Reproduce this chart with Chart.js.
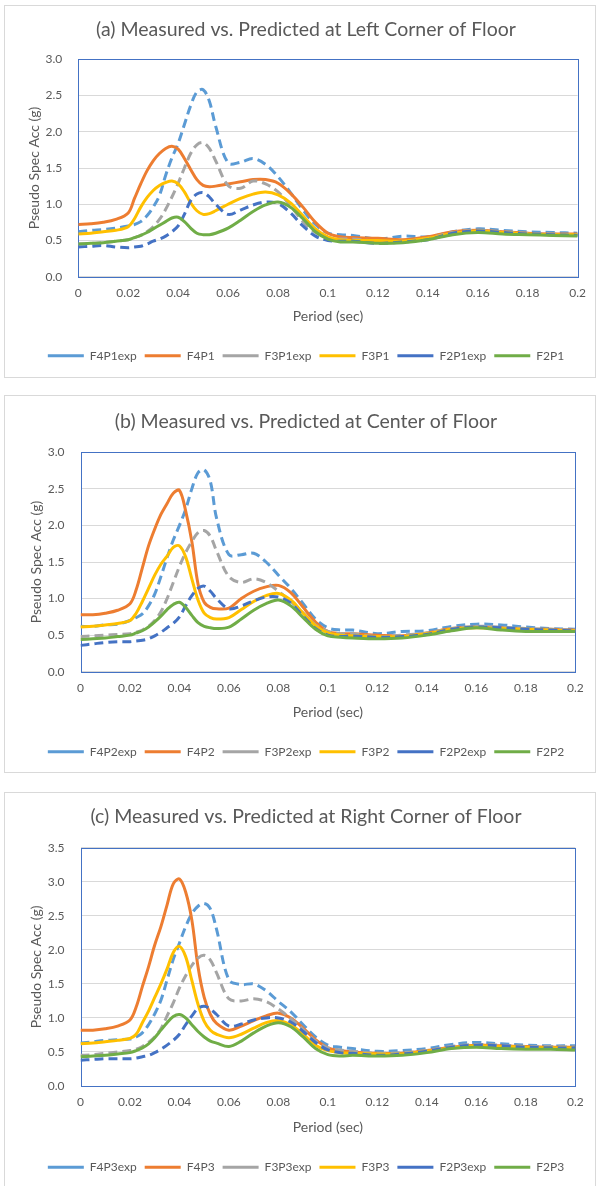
<!DOCTYPE html>
<html>
<head>
<meta charset="utf-8">
<script src="https://cdn.jsdelivr.net/npm/chart.js@4.4.1/dist/chart.umd.min.js"></script>
<style>
  body { margin: 0; background: #fff; width: 597px; height: 1186px; position: relative; overflow: hidden; }
  .frame { position: absolute; left: 4px; width: 592px; border: 1px solid #d9d9d9; box-sizing: border-box; }
  canvas { position: absolute; left: 0; display: block; }
</style>
</head>
<body>
<div class="frame" style="top:5px;height:373px"></div>
<div class="frame" style="top:395px;height:378px"></div>
<div class="frame" style="top:792px;height:400px"></div>
<canvas id="chart-a" width="597" height="373" style="top:5px"></canvas>
<canvas id="chart-b" width="597" height="378" style="top:395px"></canvas>
<canvas id="chart-c" width="597" height="394" style="top:792px"></canvas>
<script>
// period axis (sec), shared by every series
const periods = [0, 0.005, 0.01, 0.015, 0.02, 0.0225, 0.025, 0.0275, 0.03, 0.0325, 0.035, 0.0375, 0.04, 0.0425, 0.045, 0.0475,
  0.05, 0.0525, 0.055, 0.06, 0.065, 0.07, 0.075, 0.08, 0.085, 0.09, 0.095, 0.1, 0.105, 0.11, 0.12, 0.13, 0.14, 0.15, 0.16,
  0.17, 0.18, 0.19, 0.2];

const xTickLabels = ['0', '0.02', '0.04', '0.06', '0.08', '0.1', '0.12', '0.14', '0.16', '0.18', '0.2'];
const yTickLabels3 = ['0.0', '0.5', '1.0', '1.5', '2.0', '2.5', '3.0'];
const yTickLabels35 = ['0.0', '0.5', '1.0', '1.5', '2.0', '2.5', '3.0', '3.5'];

// (a) left corner
const leftNames = ['F4P1exp', 'F4P1', 'F3P1exp', 'F3P1', 'F2P1exp', 'F2P1'];
const f4p1exp = [0.62, 0.64, 0.65, 0.67, 0.70, 0.72, 0.76, 0.84, 0.96, 1.12, 1.40, 1.64, 1.84, 2.10, 2.36, 2.55, 2.58, 2.42, 2.08, 1.57, 1.58, 1.63, 1.55, 1.38, 1.16, 0.92, 0.72, 0.60, 0.58, 0.57, 0.52, 0.56, 0.55, 0.62, 0.66, 0.64, 0.62, 0.61, 0.60];
const f4p1 = [0.72, 0.73, 0.75, 0.79, 0.88, 1.08, 1.28, 1.46, 1.60, 1.70, 1.77, 1.80, 1.76, 1.63, 1.48, 1.34, 1.26, 1.24, 1.25, 1.28, 1.31, 1.34, 1.34, 1.29, 1.15, 0.96, 0.75, 0.60, 0.55, 0.54, 0.53, 0.51, 0.55, 0.62, 0.64, 0.62, 0.60, 0.59, 0.59];
const f3p1exp = [0.45, 0.46, 0.47, 0.49, 0.51, 0.54, 0.57, 0.62, 0.69, 0.79, 0.93, 1.10, 1.29, 1.50, 1.70, 1.82, 1.85, 1.77, 1.60, 1.26, 1.22, 1.32, 1.28, 1.17, 0.98, 0.76, 0.61, 0.54, 0.52, 0.52, 0.49, 0.49, 0.53, 0.61, 0.64, 0.62, 0.60, 0.59, 0.58];
const f3p1 = [0.59, 0.60, 0.62, 0.64, 0.69, 0.80, 0.96, 1.09, 1.19, 1.26, 1.30, 1.32, 1.28, 1.17, 1.02, 0.91, 0.86, 0.87, 0.91, 1.00, 1.08, 1.14, 1.17, 1.13, 1.02, 0.84, 0.66, 0.55, 0.51, 0.50, 0.50, 0.49, 0.53, 0.60, 0.63, 0.61, 0.59, 0.58, 0.58];
const f2p1exp = [0.41, 0.42, 0.43, 0.41, 0.40, 0.41, 0.42, 0.45, 0.49, 0.52, 0.56, 0.62, 0.70, 0.86, 1.05, 1.14, 1.16, 1.10, 1.00, 0.86, 0.92, 0.99, 1.03, 1.01, 0.88, 0.70, 0.56, 0.50, 0.49, 0.49, 0.46, 0.48, 0.51, 0.60, 0.63, 0.61, 0.59, 0.58, 0.57];
const f2p1 = [0.45, 0.46, 0.47, 0.49, 0.51, 0.54, 0.57, 0.61, 0.66, 0.71, 0.76, 0.81, 0.82, 0.76, 0.67, 0.60, 0.58, 0.58, 0.60, 0.67, 0.78, 0.90, 0.99, 1.03, 0.96, 0.80, 0.62, 0.52, 0.48, 0.48, 0.46, 0.47, 0.51, 0.58, 0.61, 0.59, 0.58, 0.57, 0.56];

// (b) center
const centerNames = ['F4P2exp', 'F4P2', 'F3P2exp', 'F3P2', 'F2P2exp', 'F2P2'];
const f4p2exp = [0.62, 0.62, 0.64, 0.65, 0.70, 0.74, 0.79, 0.90, 1.06, 1.30, 1.56, 1.80, 2.00, 2.22, 2.50, 2.72, 2.76, 2.60, 2.10, 1.60, 1.60, 1.62, 1.50, 1.32, 1.14, 0.93, 0.72, 0.60, 0.57, 0.57, 0.52, 0.55, 0.56, 0.62, 0.65, 0.64, 0.61, 0.59, 0.58];
const f4p2 = [0.78, 0.78, 0.80, 0.84, 0.93, 1.12, 1.42, 1.72, 1.95, 2.15, 2.30, 2.44, 2.48, 2.20, 1.78, 1.20, 0.95, 0.88, 0.86, 0.87, 1.00, 1.10, 1.16, 1.18, 1.08, 0.88, 0.68, 0.55, 0.52, 0.52, 0.50, 0.49, 0.53, 0.59, 0.61, 0.60, 0.58, 0.58, 0.57];
const f3p2exp = [0.48, 0.49, 0.50, 0.51, 0.52, 0.54, 0.57, 0.62, 0.70, 0.82, 1.00, 1.22, 1.44, 1.63, 1.78, 1.90, 1.93, 1.85, 1.65, 1.30, 1.22, 1.27, 1.22, 1.10, 0.96, 0.80, 0.64, 0.55, 0.52, 0.52, 0.48, 0.50, 0.53, 0.59, 0.62, 0.61, 0.59, 0.58, 0.57];
const f3p2 = [0.61, 0.62, 0.64, 0.66, 0.70, 0.80, 0.96, 1.14, 1.32, 1.47, 1.58, 1.70, 1.72, 1.57, 1.27, 0.98, 0.80, 0.74, 0.72, 0.74, 0.85, 0.96, 1.04, 1.07, 0.98, 0.80, 0.63, 0.53, 0.50, 0.49, 0.48, 0.48, 0.52, 0.58, 0.60, 0.59, 0.58, 0.57, 0.56];
const f2p2exp = [0.36, 0.38, 0.40, 0.41, 0.41, 0.42, 0.43, 0.45, 0.49, 0.54, 0.60, 0.66, 0.75, 0.90, 1.04, 1.14, 1.17, 1.10, 1.00, 0.86, 0.90, 0.97, 1.02, 1.02, 0.94, 0.76, 0.59, 0.50, 0.48, 0.49, 0.47, 0.48, 0.51, 0.58, 0.61, 0.60, 0.58, 0.57, 0.56];
const f2p2 = [0.44, 0.45, 0.46, 0.48, 0.50, 0.53, 0.56, 0.61, 0.68, 0.76, 0.85, 0.92, 0.95, 0.88, 0.77, 0.67, 0.62, 0.60, 0.59, 0.61, 0.72, 0.84, 0.93, 0.98, 0.90, 0.74, 0.58, 0.49, 0.47, 0.46, 0.45, 0.46, 0.50, 0.56, 0.60, 0.57, 0.55, 0.55, 0.55];

// (c) right corner
const rightNames = ['F4P3exp', 'F4P3', 'F3P3exp', 'F3P3', 'F2P3exp', 'F2P3'];
const f4p3exp = [0.63, 0.65, 0.67, 0.68, 0.69, 0.72, 0.78, 0.90, 1.06, 1.26, 1.56, 1.86, 2.10, 2.34, 2.53, 2.64, 2.68, 2.60, 2.30, 1.56, 1.49, 1.50, 1.40, 1.24, 1.09, 0.90, 0.72, 0.60, 0.57, 0.55, 0.51, 0.52, 0.55, 0.61, 0.64, 0.62, 0.60, 0.59, 0.59];
const f4p3 = [0.82, 0.82, 0.84, 0.88, 0.97, 1.16, 1.46, 1.75, 2.07, 2.34, 2.66, 2.97, 3.04, 2.85, 2.44, 1.75, 1.30, 1.05, 0.92, 0.82, 0.88, 0.96, 1.03, 1.07, 1.00, 0.85, 0.68, 0.56, 0.52, 0.50, 0.48, 0.48, 0.52, 0.57, 0.60, 0.59, 0.58, 0.57, 0.57];
const f3p3exp = [0.45, 0.46, 0.48, 0.50, 0.52, 0.54, 0.58, 0.64, 0.72, 0.84, 1.03, 1.22, 1.44, 1.62, 1.77, 1.88, 1.92, 1.85, 1.66, 1.28, 1.25, 1.28, 1.24, 1.13, 0.99, 0.83, 0.66, 0.56, 0.53, 0.51, 0.48, 0.49, 0.52, 0.58, 0.61, 0.60, 0.58, 0.58, 0.57];
const f3p3 = [0.62, 0.63, 0.65, 0.67, 0.70, 0.76, 0.93, 1.10, 1.30, 1.50, 1.72, 1.96, 2.05, 1.90, 1.55, 1.20, 0.95, 0.82, 0.76, 0.71, 0.76, 0.85, 0.93, 0.96, 0.90, 0.76, 0.60, 0.52, 0.49, 0.48, 0.47, 0.47, 0.51, 0.56, 0.59, 0.58, 0.57, 0.56, 0.56];
const f2p3exp = [0.38, 0.39, 0.40, 0.40, 0.40, 0.41, 0.43, 0.45, 0.49, 0.54, 0.60, 0.67, 0.76, 0.90, 1.03, 1.14, 1.17, 1.13, 1.05, 0.88, 0.91, 0.97, 1.00, 1.00, 0.94, 0.80, 0.64, 0.53, 0.49, 0.48, 0.45, 0.47, 0.51, 0.57, 0.60, 0.59, 0.57, 0.56, 0.56];
const f2p3 = [0.43, 0.44, 0.45, 0.47, 0.49, 0.52, 0.56, 0.62, 0.71, 0.82, 0.93, 1.02, 1.05, 1.00, 0.90, 0.80, 0.72, 0.66, 0.63, 0.58, 0.66, 0.78, 0.88, 0.93, 0.87, 0.72, 0.55, 0.46, 0.44, 0.45, 0.44, 0.45, 0.49, 0.55, 0.57, 0.55, 0.54, 0.54, 0.53];

// series look, same order in every panel
const lineStyles = [
  { color: '#5B9BD5', dash: [9, 5] },
  { color: '#ED7D31', dash: [] },
  { color: '#A5A5A5', dash: [9, 5] },
  { color: '#FFC000', dash: [] },
  { color: '#4472C4', dash: [9, 5] },
  { color: '#70AD47', dash: [] }
];

// page positions of each panel (px)
const panels = [
  { id: 'chart-a', title: '(a) Measured vs. Predicted at Left Corner of Floor', names: leftNames,
    series: [f4p1exp, f4p1, f3p1exp, f3p1, f2p1exp, f2p1], yMax: 3, yTicks: yTickLabels3,
    top: 5, height: 373, plotLeft: 78.3, plotRight: 577.6, plotTop: 59.3, plotBottom: 276.7,
    titleY: 29.3, xTitleY: 316.7, legendY: 355.7, yTitleX: 34 },
  { id: 'chart-b', title: '(b) Measured vs. Predicted at Center of Floor', names: centerNames,
    series: [f4p2exp, f4p2, f3p2exp, f3p2, f2p2exp, f2p2], yMax: 3, yTicks: yTickLabels3,
    top: 395, height: 378, plotLeft: 80.5, plotRight: 575.3, plotTop: 452.3, plotBottom: 671.7,
    titleY: 421.7, xTitleY: 712.3, legendY: 751.7, yTitleX: 36 },
  { id: 'chart-c', title: '(c) Measured vs. Predicted at Right Corner of Floor', names: rightNames,
    series: [f4p3exp, f4p3, f3p3exp, f3p3, f2p3exp, f2p3], yMax: 3.5, yTicks: yTickLabels35,
    top: 792, height: 394, plotLeft: 80.5, plotRight: 575.3, plotTop: 847.7, plotBottom: 1086,
    titleY: 816.7, xTitleY: 1127.7, legendY: 1167.3, yTitleX: 36 }
];

const FONT = 'Lato, "Open Sans", sans-serif';
const TEXT = '#595959';
const TITLE_SIZE = 19.5, TITLE_LH = TITLE_SIZE * 1.2;
const AXIS_TITLE_SIZE = 14, AXIS_TITLE_LH = AXIS_TITLE_SIZE * 1.2;
const LEGEND_PAD = 8, LEGEND_FONT = 12;
const LEGEND_H = LEGEND_FONT + LEGEND_PAD + 10;

const plotBorder = {
  id: 'plotBorder',
  beforeDatasetsDraw(chart) {
    const { ctx, chartArea: a } = chart;
    ctx.save();
    ctx.strokeStyle = '#4472C4';
    ctx.lineWidth = 1;
    ctx.strokeRect(Math.round(a.left) + 0.5, Math.round(a.top) + 0.5,
      Math.round(a.right) - Math.round(a.left), Math.round(a.bottom) - Math.round(a.top));
    ctx.restore();
  }
};

function buildChart(p) {
  const W = 597;
  const padR = W - p.plotRight;
  const padL = 15 + padR; // keeps title/legend centred near x=306
  const titleTop = p.titleY - p.top - TITLE_LH / 2;
  const titleBottom = p.plotTop - p.top - titleTop - TITLE_LH;
  const legendTop = p.legendY - p.top - LEGEND_PAD - LEGEND_FONT / 2;
  const xAxisH = legendTop - (p.plotBottom - p.top);
  const padB = p.height - legendTop - LEGEND_H;

  const datasets = p.series.map((vals, i) => ({
    label: p.names[i],
    data: periods.map((x, j) => ({ x, y: vals[j] })),
    borderColor: lineStyles[i].color,
    backgroundColor: lineStyles[i].color,
    borderDash: lineStyles[i].dash,
    borderWidth: 3,
    pointRadius: 0,
    fill: false,
    tension: 0.35,
    order: p.series.length - i
  }));

  return new Chart(document.getElementById(p.id), {
    type: 'line',
    data: { datasets },
    options: {
      responsive: false,
      animation: false,
      layout: { padding: { left: padL, right: padR, top: 0, bottom: padB } },
      plugins: {
        title: {
          display: true, text: p.title, color: TEXT,
          font: { family: FONT, size: TITLE_SIZE, weight: 'normal' },
          padding: { top: titleTop, bottom: titleBottom }
        },
        legend: {
          position: 'bottom',
          labels: {
            usePointStyle: true, pointStyle: 'line', pointStyleWidth: 36,
            padding: LEGEND_PAD, color: TEXT,
            font: { family: FONT, size: LEGEND_FONT },
            sort: (a, b) => a.datasetIndex - b.datasetIndex
          }
        },
        tooltip: { enabled: false }
      },
      scales: {
        x: {
          type: 'linear', min: 0, max: 0.2,
          afterFit: s => { s.height = xAxisH; },
          grid: { display: false, drawTicks: false },
          border: { display: false },
          ticks: {
            stepSize: 0.02, padding: 9, maxRotation: 0, autoSkip: false, color: TEXT,
            font: { family: FONT, size: 12 },
            callback: (v, i) => xTickLabels[i]
          },
          title: {
            display: true, text: 'Period (sec)', color: TEXT,
            font: { family: FONT, size: AXIS_TITLE_SIZE },
            padding: { top: 0, bottom: legendTop - (p.xTitleY - p.top) - AXIS_TITLE_LH / 2 }
          }
        },
        y: {
          min: 0, max: p.yMax,
          afterFit: s => { s.width = p.plotLeft - padL; },
          grid: { color: '#D9D9D9', drawTicks: false },
          border: { display: false },
          ticks: {
            stepSize: 0.5, padding: 16, color: TEXT,
            font: { family: FONT, size: 12 },
            callback: (v, i) => p.yTicks[i]
          },
          title: {
            display: true, text: 'Pseudo Spec Acc (g)', color: TEXT,
            font: { family: FONT, size: AXIS_TITLE_SIZE },
            padding: { top: p.yTitleX - AXIS_TITLE_LH / 2 - padL, bottom: 0 }
          }
        }
      }
    },
    plugins: [plotBorder]
  });
}

panels.forEach(buildChart);
</script>
</body>
</html>
